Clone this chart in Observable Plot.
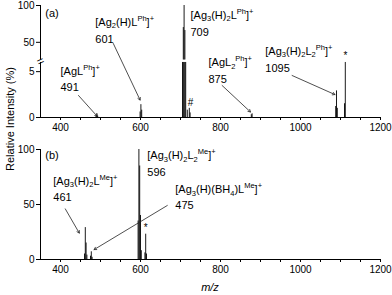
<!DOCTYPE html>
<html><head><meta charset="utf-8">
<script src="https://cdn.jsdelivr.net/npm/d3@7"></script>
<script src="https://cdn.jsdelivr.net/npm/@observablehq/plot@0.6"></script>
<style>
body{margin:0;background:#fff;}
#wrap{position:relative;width:392px;height:295px;font-family:Arial,"Liberation Sans",sans-serif;color:#000;}
#a,#b{position:absolute;left:0;}
#a{top:0}
#b{top:140px}
#ylab{position:absolute;left:10px;top:119px;transform:translate(-50%,-50%) rotate(-90deg);font-size:11px;white-space:nowrap}
#xlab{position:absolute;left:210px;top:287px;transform:translate(-50%,-50%);font-size:11px;font-style:italic}
</style></head><body>
<div id="wrap"><div id="a"></div><div id="b"></div><div id="ylab">Relative Intensity (%)</div><div id="xlab">m/z</div></div>
<script>
// ---- data: panel (a) ----
const mzA  = [489, 491, 493, 599, 601, 603, 705, 707, 709, 711, 713, 717, 722, 724, 877, 879, 1088, 1090, 1092, 1110, 1112];
const intA = [0.2, 0.4, 0.15, 0.6, 1.4, 0.8, 20, 70, 100, 66, 15, 0.8, 1.0, 0.5, 0.3, 0.4, 1.2, 2.9, 1.0, 1.5, 6.0];
// ---- data: panel (b) ----
const mzB  = [460, 462, 464, 466, 475, 477, 479, 594, 596, 598, 600, 602, 611, 613, 615];
const intB = [5, 29, 15, 4, 3, 7, 2, 35, 100, 85, 40, 8, 6, 23, 5];
// ---- ticks ----
const xLabelTicks = [400, 600, 800, 1000, 1200];
const xMinorTicks = [400, 450, 500, 550, 600, 650, 700, 750, 800, 850, 900, 950, 1000, 1050, 1100, 1150, 1200];
const yTicksA = [0, 5, 50, 100];
const yTicksB = [0, 50, 100];
// ---- annotation texts ----
const labelsA = ["(a)", "[Ag{_2}(H)L{^Ph}]{^+}", "601", "[Ag{_3}(H){_2}L{^Ph}]{^+}", "709", "[AgL{^Ph}]{^+}", "491", "[AgL{_2}{^Ph}]{^+}", "875", "[Ag{_3}(H){_2}L{_2}{^Ph}]{^+}", "1095"];
const labelsB = ["(b)", "[Ag{_3}(H){_2}L{^Me}]{^+}", "461", "[Ag{_3}(H){_2}L{_2}{^Me}]{^+}", "596", "[Ag{_3}(H)(BH{_4})L{^Me}]{^+}", "475"];

// layout of annotations (data coordinates)
const posA = [[362,89],[487,77.4],[487,54],[725,86.5],[725,63.4],[400,5.05],[400,3.27],[770,6.0],[770,4.14],[912,38],[912,5.34]];
const posB = [[362,94.5],[382,71.2],[382,56.4],[617,94.5],[617,79.4],[687,63.4],[687,49.1]];
const annA = labelsA.map((t,i)=>({x:posA[i][0], y:posA[i][1], t}));
const annB = labelsB.map((t,i)=>({x:posB[i][0], y:posB[i][1], t}));
const markA = [{x:1112.5, y:32, t:"*"}, {x:725, y:1.6, t:"#"}];
const markB = [{x:613, y:29, t:"*"}];
const arrowsA = [
  {x1:445, y1:2.4, x2:492, y2:0.12},
  {x1:532, y1:48.4, x2:599, y2:1.9},
  {x1:804, y1:3.49, x2:875, y2:0.6},
  {x1:979, y1:4.58, x2:1086, y2:2.5}
];
const arrowsB = [
  {x1:412, y1:46, x2:447, y2:24},
  {x1:667, y1:49.1, x2:484, y2:9}
];

const peaksA = mzA.map((m,i)=>({mz:m, i:intA[i]}));
const peaksB = mzB.map((m,i)=>({mz:m, i:intB[i]}));
const font = 'Arial, "Liberation Sans", sans-serif';
const LOW_TOP = 6, HIGH_BOT = 26;
// broken-axis transform: 0..6 full scale, 6..26 squeezed into a small gap, 26..100 compressed
const GAP = 0.27, UPPER_K = 0.0803;
function brk(v){
  if (v <= LOW_TOP) return v;
  if (v >= HIGH_BOT) return LOW_TOP + GAP + (v - HIGH_BOT) * UPPER_K;
  return LOW_TOP + (v - LOW_TOP) * GAP / (HIGH_BOT - LOW_TOP);
}

function richify(svg){
  svg.querySelectorAll("text").forEach(t=>{
    const s = t.textContent;
    if (!s.includes("{")) return;
    const parts = s.split(/(\{[_^][^}]*\})/).filter(p=>p.length);
    t.textContent = "";
    let shift = 0;
    for (const p of parts){
      const m = p.match(/^\{([_^])([^}]*)\}$/);
      const target = m ? (m[1]==="_" ? 2.5 : -5) : 0;
      const ts = document.createElementNS("http://www.w3.org/2000/svg","tspan");
      ts.textContent = m ? m[2] : p;
      if (m) ts.setAttribute("font-size","7.5");
      if (target !== shift) ts.setAttribute("dy", (target - shift));
      shift = target;
      t.appendChild(ts);
    }
  });
}

const xAxisMarks = () => [
  Plot.ruleY([0], {stroke:"#000", strokeWidth:1}),
  Plot.axisX({ticks: xMinorTicks, tickSize: 3, tickPadding: 3, fontSize: 10, label: null,
              tickFormat: d => xLabelTicks.includes(d) ? String(d) : ""})
];
// y axis built from ordinary marks so that the scale transform applies to the ticks
const yAxisMarks = (ticks) => [
  Plot.ruleY(ticks, {y: d => d, x1: 340, x2: 350, stroke: "#000"}),
  Plot.text(ticks, {y: d => d, x: 350, dx: -6, text: d => String(d), textAnchor: "end", fontSize: 10, fill: "#000"})
];

const plotA = Plot.plot({
  width: 392, height: 140, marginLeft: 40, marginRight: 12, marginTop: 5, marginBottom: 23,
  x: {domain: [350, 1200]},
  y: {transform: brk, axis: null},
  style: {fontFamily: font, fontSize: "10px", background: "#fff", color: "#000", overflow: "visible"},
  marks: [
    Plot.ruleX(peaksA, {x:"mz", y1:0, y2: d => Math.min(d.i, LOW_TOP), stroke:"#000", strokeWidth:0.9}),
    Plot.ruleX(peaksA.filter(d => d.i > HIGH_BOT), {x:"mz", y1:HIGH_BOT, y2:"i", stroke:"#000", strokeWidth:0.9}),
    ...xAxisMarks(),
    Plot.ruleX([350], {y1:0, y2:LOW_TOP, stroke:"#000"}),
    Plot.ruleX([350], {y1:HIGH_BOT, y2:100, stroke:"#000"}),
    Plot.text([{x:350, y:16, t:"="}], {x:"x", y:"y", text:"t", fontSize:12, rotate:-25, fill:"#000"}),
    ...yAxisMarks(yTicksA),
    Plot.arrow(arrowsA, {x1:"x1", y1:"y1", x2:"x2", y2:"y2", stroke:"#222", strokeWidth:0.8, headLength:5}),
    Plot.text(annA, {x:"x", y:"y", text:"t", textAnchor:"start", fontSize:11, fill:"#000"}),
    Plot.text(markA, {x:"x", y:"y", text:"t", fontSize:10, fill:"#000"})
  ]
});
richify(plotA);
document.getElementById("a").appendChild(plotA);

const plotB = Plot.plot({
  width: 392, height: 155, marginLeft: 40, marginRight: 12, marginTop: 9, marginBottom: 36,
  x: {domain: [350, 1200]},
  y: {domain: [0, 100], axis: null},
  style: {fontFamily: font, fontSize: "10px", background: "#fff", color: "#000", overflow: "visible"},
  marks: [
    Plot.ruleX(peaksB, {x:"mz", y1:0, y2:"i", stroke:"#000", strokeWidth:0.9}),
    ...xAxisMarks(),
    Plot.ruleX([350], {y1:0, y2:100, stroke:"#000"}),
    ...yAxisMarks(yTicksB),
    Plot.arrow(arrowsB, {x1:"x1", y1:"y1", x2:"x2", y2:"y2", stroke:"#222", strokeWidth:0.8, headLength:5}),
    Plot.text(annB, {x:"x", y:"y", text:"t", textAnchor:"start", fontSize:11, fill:"#000"}),
    Plot.text(markB, {x:"x", y:"y", text:"t", fontSize:10, fill:"#000"})
  ]
});
richify(plotB);
document.getElementById("b").appendChild(plotB);
</script>
</body></html>
